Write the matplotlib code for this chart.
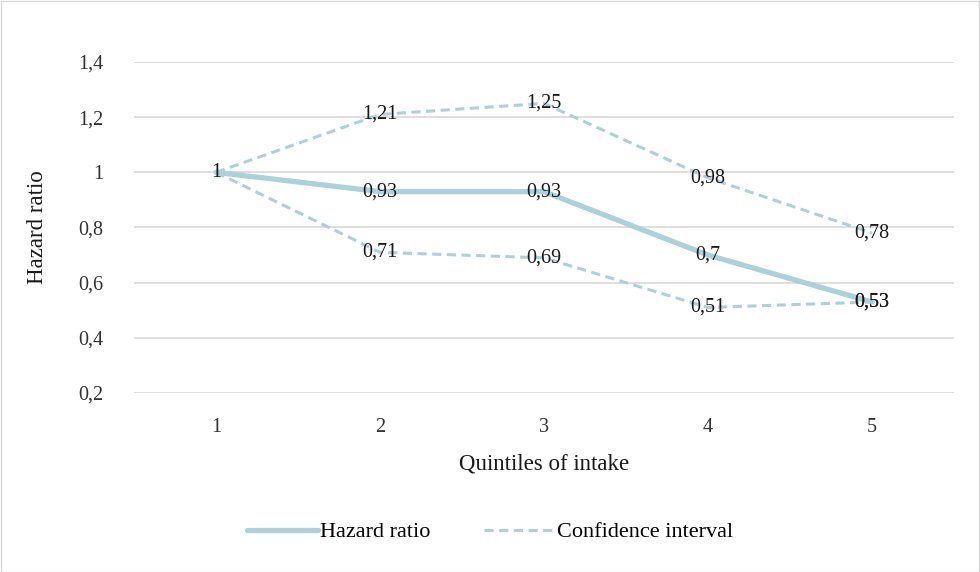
import matplotlib.pyplot as plt
from matplotlib.patches import Rectangle

plt.rcParams["font.family"] = ["Liberation Serif", "DejaVu Serif"]

quintiles = [1, 2, 3, 4, 5]
quintile_labels = ["1", "2", "3", "4", "5"]
hazard = [1.0, 0.93, 0.93, 0.70, 0.53]
ci_upper = [1.0, 1.21, 1.25, 0.98, 0.78]
ci_lower = [1.0, 0.71, 0.69, 0.51, 0.53]
y_ticks = [0.2, 0.4, 0.6, 0.8, 1.0, 1.2, 1.4]

line_color = "#abd2db"
grid_color = "#d9d9d9"
dash = (0, (3, 1.8))

fig = plt.figure(figsize=(9.8, 5.72), dpi=100)
ax = fig.add_axes([134 / 980, 1 - 393 / 572, 820 / 980, 331 / 572])

ax.plot(quintiles, hazard, color=line_color, lw=3.8, solid_capstyle="round",
        label="Hazard ratio", zorder=3)
ax.plot(quintiles, ci_upper, color=line_color, lw=2.2, ls=dash,
        label="Confidence interval", zorder=3)
ax.plot(quintiles, ci_lower, color=line_color, lw=2.2, ls=dash, zorder=3)


def fmt(v):
    s = f"{v:.2f}".rstrip("0").rstrip(".")
    return s.replace(".", ",")


for series in (hazard, ci_upper, ci_lower):
    for i, (x, v) in enumerate(zip(quintiles, series)):
        if i == 0 and series is not hazard:
            continue
        ax.text(x, v, fmt(v), ha="center", va="center", fontsize=14.5,
                color="#1a1a1a", zorder=4)

ax.set_xlim(0.5, 5.5)
ax.set_ylim(0.2, 1.4)
ax.set_xticks(quintiles)
ax.set_xticklabels(quintile_labels)
ax.set_yticks(y_ticks)
ax.set_yticklabels([fmt(v) for v in y_ticks])
ax.tick_params(length=0, labelsize=14.5, colors="#333333")
ax.tick_params(axis="y", pad=22)
ax.tick_params(axis="x", pad=18)
ax.grid(axis="y", color=grid_color, lw=1.2)
ax.set_axisbelow(True)
for s in ax.spines.values():
    s.set_visible(False)

ax.set_xlabel("Quintiles of intake", fontsize=16.5, labelpad=12, color="#1a1a1a")
ax.set_ylabel("Hazard ratio", fontsize=16.5, color="#1a1a1a", va="center")
ax.yaxis.set_label_coords(-97 / 820, 0.5)

fig.legend(loc="center", bbox_to_anchor=(0.5, 1 - 532 / 572), ncol=2,
           frameon=False, fontsize=16, handlelength=3.2, handletextpad=0.1,
           columnspacing=2.4)

fig.add_artist(Rectangle((0.5 / 980, 0.5 / 572), 978.5 / 980, 570.5 / 572,
                         transform=fig.transFigure, fill=False,
                         edgecolor="#d9d9d9", lw=1))

fig.savefig("out.png", dpi=100)
